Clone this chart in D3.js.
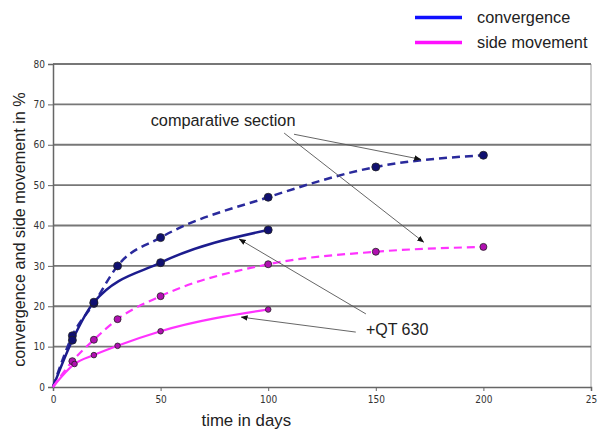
<!DOCTYPE html>
<html><head><meta charset="utf-8">
<script src="https://cdn.jsdelivr.net/npm/d3@7"></script>
<style>
html,body{margin:0;padding:0;background:#fff;}
svg{display:block;}
</style></head>
<body>
<script>
// ---- data ----
const yTicks = [0,10,20,30,40,50,60,70,80];
const xTicks = [0,50,100,150,200,250];
const xTickLabels = ["0","50","100","150","200","25"];

const convCompDays = [9, 19, 30, 50, 100, 150, 200];
const convCompVals = [12.7, 20.7, 30.0, 37.0, 47.0, 54.5, 57.4];

const convQtDays = [9, 19, 50, 100];
const convQtVals = [11.6, 21.0, 30.8, 38.9];

const sideCompDays = [9, 19, 30, 50, 100, 150, 200];
const sideCompVals = [6.4, 11.7, 16.8, 22.5, 30.4, 33.5, 34.7];

const sideQtDays = [10, 19, 30, 50, 100];
const sideQtVals = [5.7, 7.9, 10.2, 13.8, 19.2];

const legendLabels = ["convergence", "side movement"];
const xTitle = "time in days";
const yTitle = "convergence and side movement in %";
const labelComp = "comparative section";
const labelQt = "+QT 630";

// annotation arrows in data units: [fromDay, fromVal, toDay, toVal]
const compArrows = [[112, 62.6, 170.8, 56.4], [107.4, 62.9, 172.2, 35.9]];
const qtArrows = [[145.4, 18.1, 86.6, 36.6], [140.7, 13.6, 87.5, 17.3]];
const compLabelPos = [45.4, 64.6];
const qtLabelPos = [145.4, 12.9];

// ---- drawing ----
const W = 600, H = 432;
const svg = d3.select("body").append("svg").attr("width", W).attr("height", H);
const x = d3.scaleLinear().domain([0,250]).range([53,591]);
const y = d3.scaleLinear().domain([0,80]).range([387,64]);

const defs = svg.append("defs");
defs.append("marker").attr("id","arr").attr("viewBox","0 0 10 10")
  .attr("refX",9).attr("refY",5).attr("markerWidth",7).attr("markerHeight",7)
  .attr("orient","auto").attr("markerUnits","userSpaceOnUse")
  .append("path").attr("d","M0,1 L10,5 L0,9 z").attr("fill","#111");

// plot border (right side)
svg.append("line").attr("x1",x(250)).attr("x2",x(250)).attr("y1",y(80)).attr("y2",y(0))
  .attr("stroke","#a0a0a0").attr("stroke-width",1);

// gridlines
svg.append("g").selectAll("line").data(yTicks.filter(d=>d>0)).join("line")
  .attr("x1",x(0)).attr("x2",x(250)).attr("y1",d=>y(d)).attr("y2",d=>y(d))
  .attr("stroke","#777").attr("stroke-width",1.8);

// axes
const fontTick = "'Liberation Sans Narrow','Arial Narrow','DejaVu Sans Condensed',sans-serif";
const yAxis = svg.append("g").attr("transform",`translate(${x(0)},0)`)
  .call(d3.axisLeft(y).tickValues(yTicks).tickSize(5).tickPadding(3));
yAxis.select(".domain").attr("stroke","#666").attr("stroke-width",1.5);
yAxis.selectAll(".tick line").attr("stroke","#666");
yAxis.selectAll("text").attr("font-family",fontTick).attr("font-size",10).attr("fill","#333");

const xAxis = svg.append("g").attr("transform",`translate(0,${y(0)})`)
  .call(d3.axisBottom(x).tickValues(xTicks).tickFormat((d,i)=>xTickLabels[i]).tickSize(4).tickPadding(5));
xAxis.select(".domain").attr("stroke","#666").attr("stroke-width",1.5);
xAxis.selectAll(".tick line").attr("stroke","#666");
xAxis.selectAll("text").attr("font-family",fontTick).attr("font-size",10).attr("fill","#333");

// titles
const fontMain = "'Liberation Sans',Arial,sans-serif";
svg.append("text").attr("x",x(69)).attr("y",426).attr("font-family",fontMain)
  .attr("font-size",16.8).attr("fill","#222").text(xTitle);
svg.append("text").attr("transform",`translate(25,${y(39)}) rotate(-90)`)
  .attr("text-anchor","middle").attr("font-family",fontMain)
  .attr("font-size",16.2).attr("fill","#222").text(yTitle);

// series
const line = d3.line().x(d=>x(d[0])).y(d=>y(d[1])).curve(d3.curveMonotoneX);
function pts(days, vals){ return days.map((d,i)=>[d, vals[i]]); }
const series = [
  {days:convCompDays, vals:convCompVals, color:"#2a2a9c", dash:"8,5", w:2.5, mfill:"#101070", mr:4},
  {days:convQtDays, vals:convQtVals, color:"#1c1c8e", dash:null, w:2.5, mfill:"#101070", mr:4},
  {days:sideCompDays, vals:sideCompVals, color:"#ff33ff", dash:"8,5", w:2.2, mfill:"#b010b0", mr:3.5},
  {days:sideQtDays, vals:sideQtVals, color:"#ff33ff", dash:null, w:2.2, mfill:"#b010b0", mr:2.8}
];
series.forEach(s=>{
  const p = [[0,0]].concat(pts(s.days, s.vals));
  svg.append("path").datum(p).attr("d",line).attr("fill","none")
    .attr("stroke",s.color).attr("stroke-width",s.w)
    .attr("stroke-dasharray",s.dash);
});
series.forEach(s=>{
  svg.append("g").selectAll("circle").data(pts(s.days,s.vals)).join("circle")
    .attr("cx",d=>x(d[0])).attr("cy",d=>y(d[1])).attr("r",s.mr)
    .attr("fill",s.mfill).attr("stroke","#222").attr("stroke-width",0.8);
});

// annotations
function arrows(list){
  svg.append("g").selectAll("line").data(list).join("line")
    .attr("x1",d=>x(d[0])).attr("y1",d=>y(d[1])).attr("x2",d=>x(d[2])).attr("y2",d=>y(d[3]))
    .attr("stroke","#555").attr("stroke-width",0.9).attr("marker-end","url(#arr)");
}
arrows(compArrows); arrows(qtArrows);
svg.append("text").attr("x",x(compLabelPos[0])).attr("y",y(compLabelPos[1]))
  .attr("font-family",fontMain).attr("font-size",16.3).attr("fill","#222").text(labelComp);
svg.append("text").attr("x",x(qtLabelPos[0])).attr("y",y(qtLabelPos[1]))
  .attr("font-family",fontMain).attr("font-size",16).attr("fill","#222").text(labelQt);

// legend
const legColors = ["#1010ff","#ff10ff"];
const leg = svg.append("g");
legendLabels.forEach((t,i)=>{
  const ly = 17.5 + i*25;
  leg.append("line").attr("x1",415).attr("x2",462).attr("y1",ly).attr("y2",ly)
    .attr("stroke",legColors[i]).attr("stroke-width",3.5);
  leg.append("text").attr("x",477).attr("y",ly+5.5).attr("font-family",fontMain)
    .attr("font-size",16.3).attr("fill","#222").text(t);
});
</script>
</body></html>
